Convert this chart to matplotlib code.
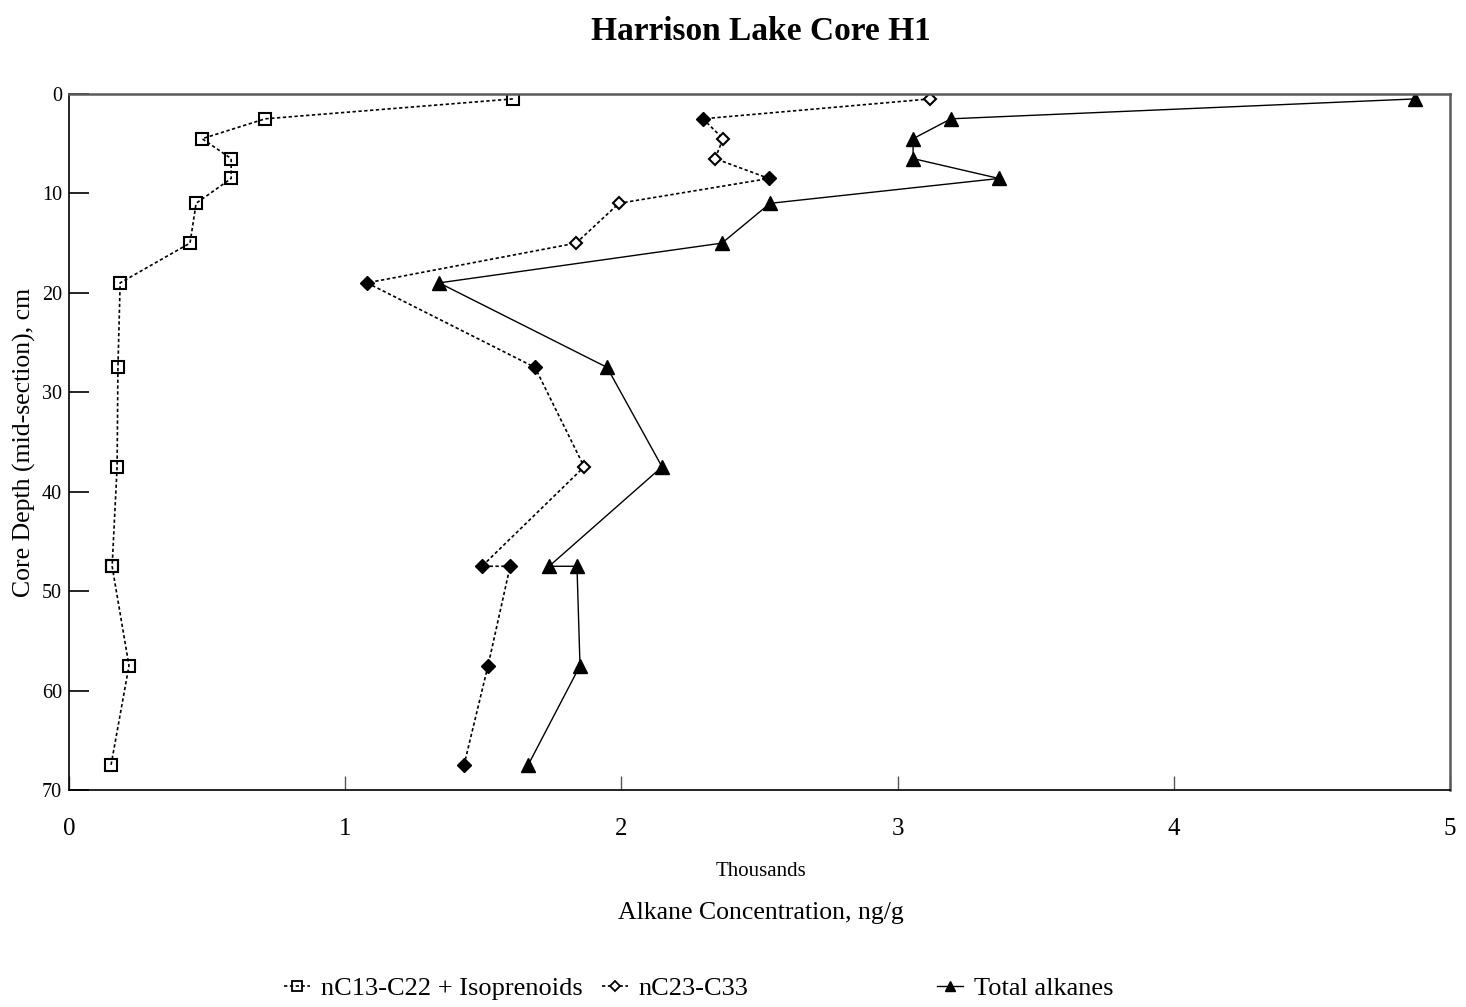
import numpy as np
import matplotlib
matplotlib.use("Agg")
import matplotlib.pyplot as plt
from matplotlib.lines import Line2D

plt.rcParams['font.family'] = ['Liberation Serif', 'DejaVu Serif']

# mid-section depth (cm); 47.5 cm was run twice
depth = [0.5, 2.5, 4.5, 6.5, 8.5, 11, 15, 19, 27.5, 37.5, 47.5, 47.5, 57.5, 67.5]

# alkane concentrations, thousands of ng/g
c13_c22 = [1.607, 0.710, 0.482, 0.587, 0.587, 0.460, 0.438, 0.185, 0.177, 0.174,
           0.156, 0.156, 0.217, 0.152]
c23_c33 = [3.117, 2.295, 2.368, 2.339, 2.534, 1.991, 1.836, 1.079, 1.687, 1.865,
           1.495, 1.597, 1.517, 1.430]
total = [4.873, 3.193, 3.056, 3.056, 3.367, 2.538, 2.364, 1.340, 1.948, 2.147,
         1.738, 1.839, 1.850, 1.662]

labels = ['nC13-C22 + Isoprenoids', 'nC23-C33', 'Total alkanes']

fig = plt.figure(figsize=(14.66, 10.07), dpi=100)
ax = fig.add_axes([0.0471, 0.2155, 0.9420, 0.6912])

dot = (0, (2, 1.5))

ax.plot(c13_c22, depth, color='black', lw=1.2, ls=dot,
        marker='s', ms=8.5, mfc='none', mec='black', mew=1.5)

# nC23-C33: dotted line, diamonds partly hollow
ax.plot(c23_c33, depth, color='black', lw=1.2, ls=dot)
hollow = np.array([1, 0, 1, 1, 0, 1, 1, 0, 0, 1, 0, 0, 0, 0], dtype=bool)
x2 = np.array(c23_c33)
d2 = np.array(depth)
ax.plot(x2[hollow], d2[hollow], ls='none', marker='D', ms=6.5,
        mfc='white', mec='black', mew=1.5)
ax.plot(x2[~hollow], d2[~hollow], ls='none', marker='D', ms=7,
        mfc='black', mec='black')

ax.plot(total, depth, color='black', lw=1.0, ls='-',
        marker='^', ms=9.5, mfc='black', mec='black')

ax.set_xlim(0, 5)
ax.set_ylim(70, 0)
ax.set_xticks(np.arange(0, 6, 1))
ax.set_yticks(np.arange(0, 80, 10))
ax.tick_params(axis='x', direction='in', length=10, width=1, color='#555555',
               labelsize=18, pad=20)
ax.tick_params(axis='y', direction='in', length=14.5, width=1.2,
               labelsize=14.5, pad=5)
for s in ['top', 'right']:
    ax.spines[s].set_color('#5a5a5a')
    ax.spines[s].set_linewidth(1.8)
for s in ['left', 'bottom']:
    ax.spines[s].set_color('black')
    ax.spines[s].set_linewidth(1.2)

ax.set_ylabel('Core Depth (mid-section), cm', fontsize=18.5, labelpad=4)
fig.text(0.519, 1 - 31 / 1007, 'Harrison Lake Core H1', ha='center', va='center',
         fontsize=24, fontweight='bold')
fig.text(0.519, 1 - 872 / 1007, 'Thousands', ha='center', va='center', fontsize=15)
fig.text(0.519, 1 - 913 / 1007, 'Alkane Concentration, ng/g', ha='center',
         va='center', fontsize=18.5)

handles = [
    Line2D([], [], color='black', lw=1.2, ls=dot, marker='s', ms=7,
           mfc='none', mec='black', mew=1.3),
    Line2D([], [], color='black', lw=1.2, ls=dot, marker='D', ms=5,
           mfc='white', mec='black', mew=1.3),
    Line2D([], [], color='black', lw=1.0, marker='^', ms=7, mfc='black'),
]
legend_x = [284 / 1466, 602 / 1466, 937 / 1466]
for h, lab, lx in zip(handles, labels, legend_x):
    fig.legend([h], [lab], loc='center left', bbox_to_anchor=(lx, 1 - 988 / 1007),
               frameon=False, fontsize=19, handlelength=1.0, handletextpad=0.4,
               borderpad=0, borderaxespad=0)

fig.savefig('out.png', dpi=100)
